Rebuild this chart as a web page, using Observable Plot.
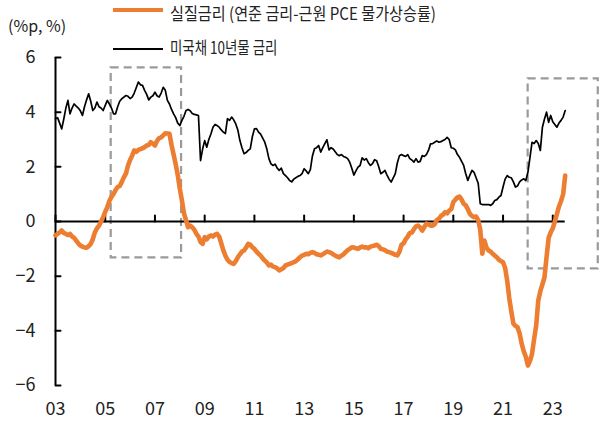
<!DOCTYPE html>
<html>
<head>
<meta charset="utf-8">
<script src="https://cdn.jsdelivr.net/npm/d3@7"></script>
<script src="https://cdn.jsdelivr.net/npm/@observablehq/plot@0.6"></script>
<style>
  html, body { margin: 0; padding: 0; background: #fff; }
  #wrap { position: relative; width: 606px; height: 432px; overflow: hidden;
          font-family: "Noto Sans CJK KR", "Noto Sans", sans-serif; color: #222; }
  #chart { position: absolute; left: 0; top: 0; }
  .lg-line { position: absolute; left: 113px; width: 50px; }
  .lg-text { position: absolute; left: 170px; font-size: 17px; line-height: 18px;
             white-space: nowrap; transform-origin: 0 50%; }
  #unit { position: absolute; left: 8px; top: 15px; font-size: 16px; line-height: 20px; white-space: nowrap; }
</style>
</head>
<body>
<div id="wrap">
  <div id="chart"></div>
  <div id="unit"></div>
  <div class="lg-line" id="lg1" style="top:7.8px;height:4.6px;"></div>
  <div class="lg-text" id="lt1" style="top:3.5px;transform:scaleX(0.89);"></div>
  <div class="lg-line" id="lg2" style="top:48.2px;height:1.7px;"></div>
  <div class="lg-text" id="lt2" style="top:38px;transform:scaleX(0.79);"></div>
</div>
<script>
// ---- data (monthly, starting Jan 2003) ----
const startYear = 2003;
const seriesNames = ["실질금리 (연준 금리-근원 PCE 물가상승률)", "미국채 10년물 금리"];
const unitLabel = "(%p, %)";
const seriesColors = ["#ED7D31", "#000000"];

const realRate = [
  -0.51,-0.45,-0.40,-0.33,-0.42,-0.45,-0.50,-0.45,-0.55,-0.60,-0.70,-0.80,
  -0.88,-0.92,-0.95,-0.96,-0.90,-0.82,-0.65,-0.40,-0.25,-0.15,0.00,0.16,
  0.35,0.52,0.75,0.90,1.01,1.15,1.26,1.30,1.45,1.62,1.75,2.05,
  2.25,2.41,2.60,2.55,2.62,2.65,2.68,2.72,2.78,2.80,2.90,2.85,
  2.78,2.95,3.05,3.08,3.15,3.23,3.22,3.21,2.80,2.45,2.10,1.70,
  1.20,0.77,0.30,0.05,-0.21,-0.15,-0.21,-0.30,-0.45,-0.55,-0.75,-0.82,
  -0.57,-0.65,-0.55,-0.51,-0.55,-0.48,-0.45,-0.55,-0.80,-1.06,-1.25,-1.40,
  -1.48,-1.52,-1.55,-1.45,-1.31,-1.20,-1.10,-1.06,-0.95,-0.82,-0.85,-0.94,
  -1.00,-1.10,-1.18,-1.25,-1.35,-1.43,-1.50,-1.61,-1.58,-1.65,-1.67,-1.72,
  -1.79,-1.75,-1.70,-1.61,-1.58,-1.55,-1.52,-1.49,-1.45,-1.38,-1.31,-1.25,
  -1.22,-1.18,-1.20,-1.15,-1.12,-1.15,-1.20,-1.22,-1.24,-1.20,-1.15,-1.10,
  -1.12,-1.15,-1.20,-1.25,-1.28,-1.31,-1.25,-1.20,-1.12,-1.05,-1.00,-0.94,
  -0.95,-0.98,-1.00,-0.95,-0.92,-0.95,-0.94,-0.98,-0.92,-0.90,-0.88,-0.85,
  -0.90,-1.00,-1.02,-1.05,-1.10,-1.12,-1.15,-1.18,-1.22,-1.24,-1.10,-0.85,
  -0.80,-0.65,-0.55,-0.42,-0.40,-0.28,-0.18,-0.15,-0.22,-0.33,-0.20,-0.08,
  -0.10,-0.15,-0.15,-0.10,0.05,0.10,0.20,0.25,0.34,0.30,0.40,0.45,
  0.71,0.80,0.88,0.91,0.80,0.65,0.59,0.45,0.28,0.20,0.16,0.18,
  0.05,-0.30,-1.18,-0.70,-0.95,-1.06,-1.10,-1.18,-1.25,-1.31,-1.40,-1.45,
  -1.49,-1.70,-2.16,-2.80,-3.30,-3.74,-3.82,-3.87,-4.10,-4.47,-4.75,-4.95,
  -5.27,-5.10,-4.84,-4.30,-3.80,-2.89,-2.55,-2.30,-2.04,-1.30,-0.60,-0.40,
  -0.25,0.00,0.28,0.55,0.75,1.00,1.68
];

const treasury10y = [
  3.76,3.80,3.60,3.39,3.75,4.15,4.43,3.94,4.15,4.30,4.22,4.15,
  4.05,3.88,4.20,4.45,4.67,4.40,4.06,4.15,4.37,4.20,4.15,4.06,
  4.25,4.43,4.30,4.15,3.94,3.94,4.20,4.40,4.49,4.55,4.61,4.58,
  4.50,4.55,4.70,4.90,5.10,5.00,4.98,4.80,4.65,4.45,4.55,4.60,
  4.73,4.60,4.55,4.70,4.91,4.80,4.43,4.30,4.10,3.94,3.80,3.60,
  3.51,3.70,3.85,4.06,4.10,4.05,3.95,3.92,3.90,3.88,2.23,2.65,
  2.96,2.72,3.00,3.20,3.45,3.55,3.51,3.45,3.35,3.27,3.22,3.76,
  3.70,3.82,3.72,3.57,3.35,2.96,2.70,2.48,2.52,2.60,2.66,3.10,
  3.39,3.40,3.27,3.20,3.05,2.90,2.65,2.30,2.11,2.05,2.10,1.95,
  1.87,1.95,1.75,1.68,1.60,1.50,1.45,1.55,1.60,1.65,1.68,1.75,
  1.93,1.85,1.75,1.90,2.40,2.66,2.70,2.78,2.54,2.70,2.85,2.99,
  2.62,2.70,2.65,2.55,2.45,2.41,2.45,2.38,2.35,2.30,2.17,1.95,
  1.70,1.85,1.99,2.05,2.33,2.25,2.30,2.15,2.05,2.12,2.26,2.22,
  2.00,1.75,1.80,1.87,1.70,1.55,1.44,1.60,1.75,2.15,2.41,2.45,
  2.41,2.38,2.45,2.30,2.25,2.17,2.30,2.17,2.20,2.41,2.38,2.45,
  2.60,2.84,2.85,2.90,2.95,2.90,2.92,2.96,3.00,3.08,3.00,2.70,
  2.68,2.62,2.45,2.35,2.20,2.05,1.75,1.50,1.70,1.87,1.80,1.60,
  1.40,0.65,0.62,0.62,0.62,0.62,0.59,0.65,0.77,0.80,0.89,0.95,
  1.26,1.55,1.68,1.62,1.60,1.45,1.26,1.30,1.45,1.52,1.56,1.50,
  1.80,2.35,2.90,2.85,2.96,2.85,2.60,3.45,3.75,4.00,3.63,3.88,
  3.65,3.55,3.45,3.60,3.70,3.82,4.06
];

const xTicks = [2003, 2005, 2007, 2009, 2011, 2013, 2015, 2017, 2019, 2021, 2023];
const yTicks = [-6, -4, -2, 0, 2, 4, 6];

// highlighted periods (dashed boxes), in data units
const boxX1 = [2005.24, 2022.01];
const boxX2 = [2008.07, 2024.83];
const boxY1 = [-1.33, -1.73];
const boxY2 = [5.62, 5.22];

// ---- build tables ----
const realData = realRate.map((v, i) => ({date: startYear + i / 12, value: v}));
const tsyData = treasury10y.map((v, i) => ({date: startYear + i / 12, value: v}));
const lastDate = Math.max(realData[realData.length - 1].date, tsyData[tsyData.length - 1].date);
const boxes = boxX1.map((x1, i) => ({x1, x2: boxX2[i], y1: boxY1[i], y2: boxY2[i]}));

const tickShape = { draw(context, l) { context.moveTo(0, 0); context.lineTo(0, -l); } };

const chart = Plot.plot({
  width: 606,
  height: 432,
  marginTop: 57,
  marginBottom: 47,
  marginLeft: 55,
  marginRight: 4,
  x: {type: "linear", domain: [2003, 2025]},
  y: {domain: [-6, 6]},
  style: {fontFamily: "'Noto Sans CJK KR', 'Noto Sans', sans-serif", fontSize: "18px", color: "#222", background: "white"},
  marks: [
    Plot.rect(boxes, {x1: "x1", x2: "x2", y1: "y1", y2: "y2", fill: "none",
      stroke: "#9a9a9a", strokeWidth: 2.2, strokeDasharray: "8,5"}),
    Plot.ruleX([xTicks[0]], {y1: yTicks[0], y2: yTicks[yTicks.length - 1], stroke: "#000", strokeWidth: 2}),
    Plot.ruleY([0], {x1: xTicks[0], x2: lastDate, stroke: "#000", strokeWidth: 2}),
    Plot.vector(yTicks, {x: xTicks[0], y: d => d, length: 5, rotate: 90, anchor: "start",
      shape: tickShape, stroke: "#000", strokeWidth: 2}),
    Plot.vector(xTicks, {x: d => d, y: 0, length: 6, rotate: 0, anchor: "start",
      shape: tickShape, stroke: "#000", strokeWidth: 2}),
    Plot.axisY({ticks: yTicks, tickSize: 0, tickPadding: 20, label: null, fontSize: 18}),
    Plot.axisX({ticks: xTicks, tickSize: 0, tickPadding: 17, label: null, fontSize: 18,
      tickFormat: d => String(d % 100).padStart(2, "0")}),
    Plot.line(tsyData, {x: "date", y: "value", stroke: seriesColors[1], strokeWidth: 1.7}),
    Plot.line(realData, {x: "date", y: "value", stroke: seriesColors[0], strokeWidth: 4.6,
      strokeLinejoin: "round"})
  ]
});
document.getElementById("chart").appendChild(chart);

document.getElementById("unit").textContent = unitLabel;
document.getElementById("lt1").textContent = seriesNames[0];
document.getElementById("lt2").textContent = seriesNames[1];
document.getElementById("lg1").style.background = seriesColors[0];
document.getElementById("lg2").style.background = seriesColors[1];
</script>
</body>
</html>
